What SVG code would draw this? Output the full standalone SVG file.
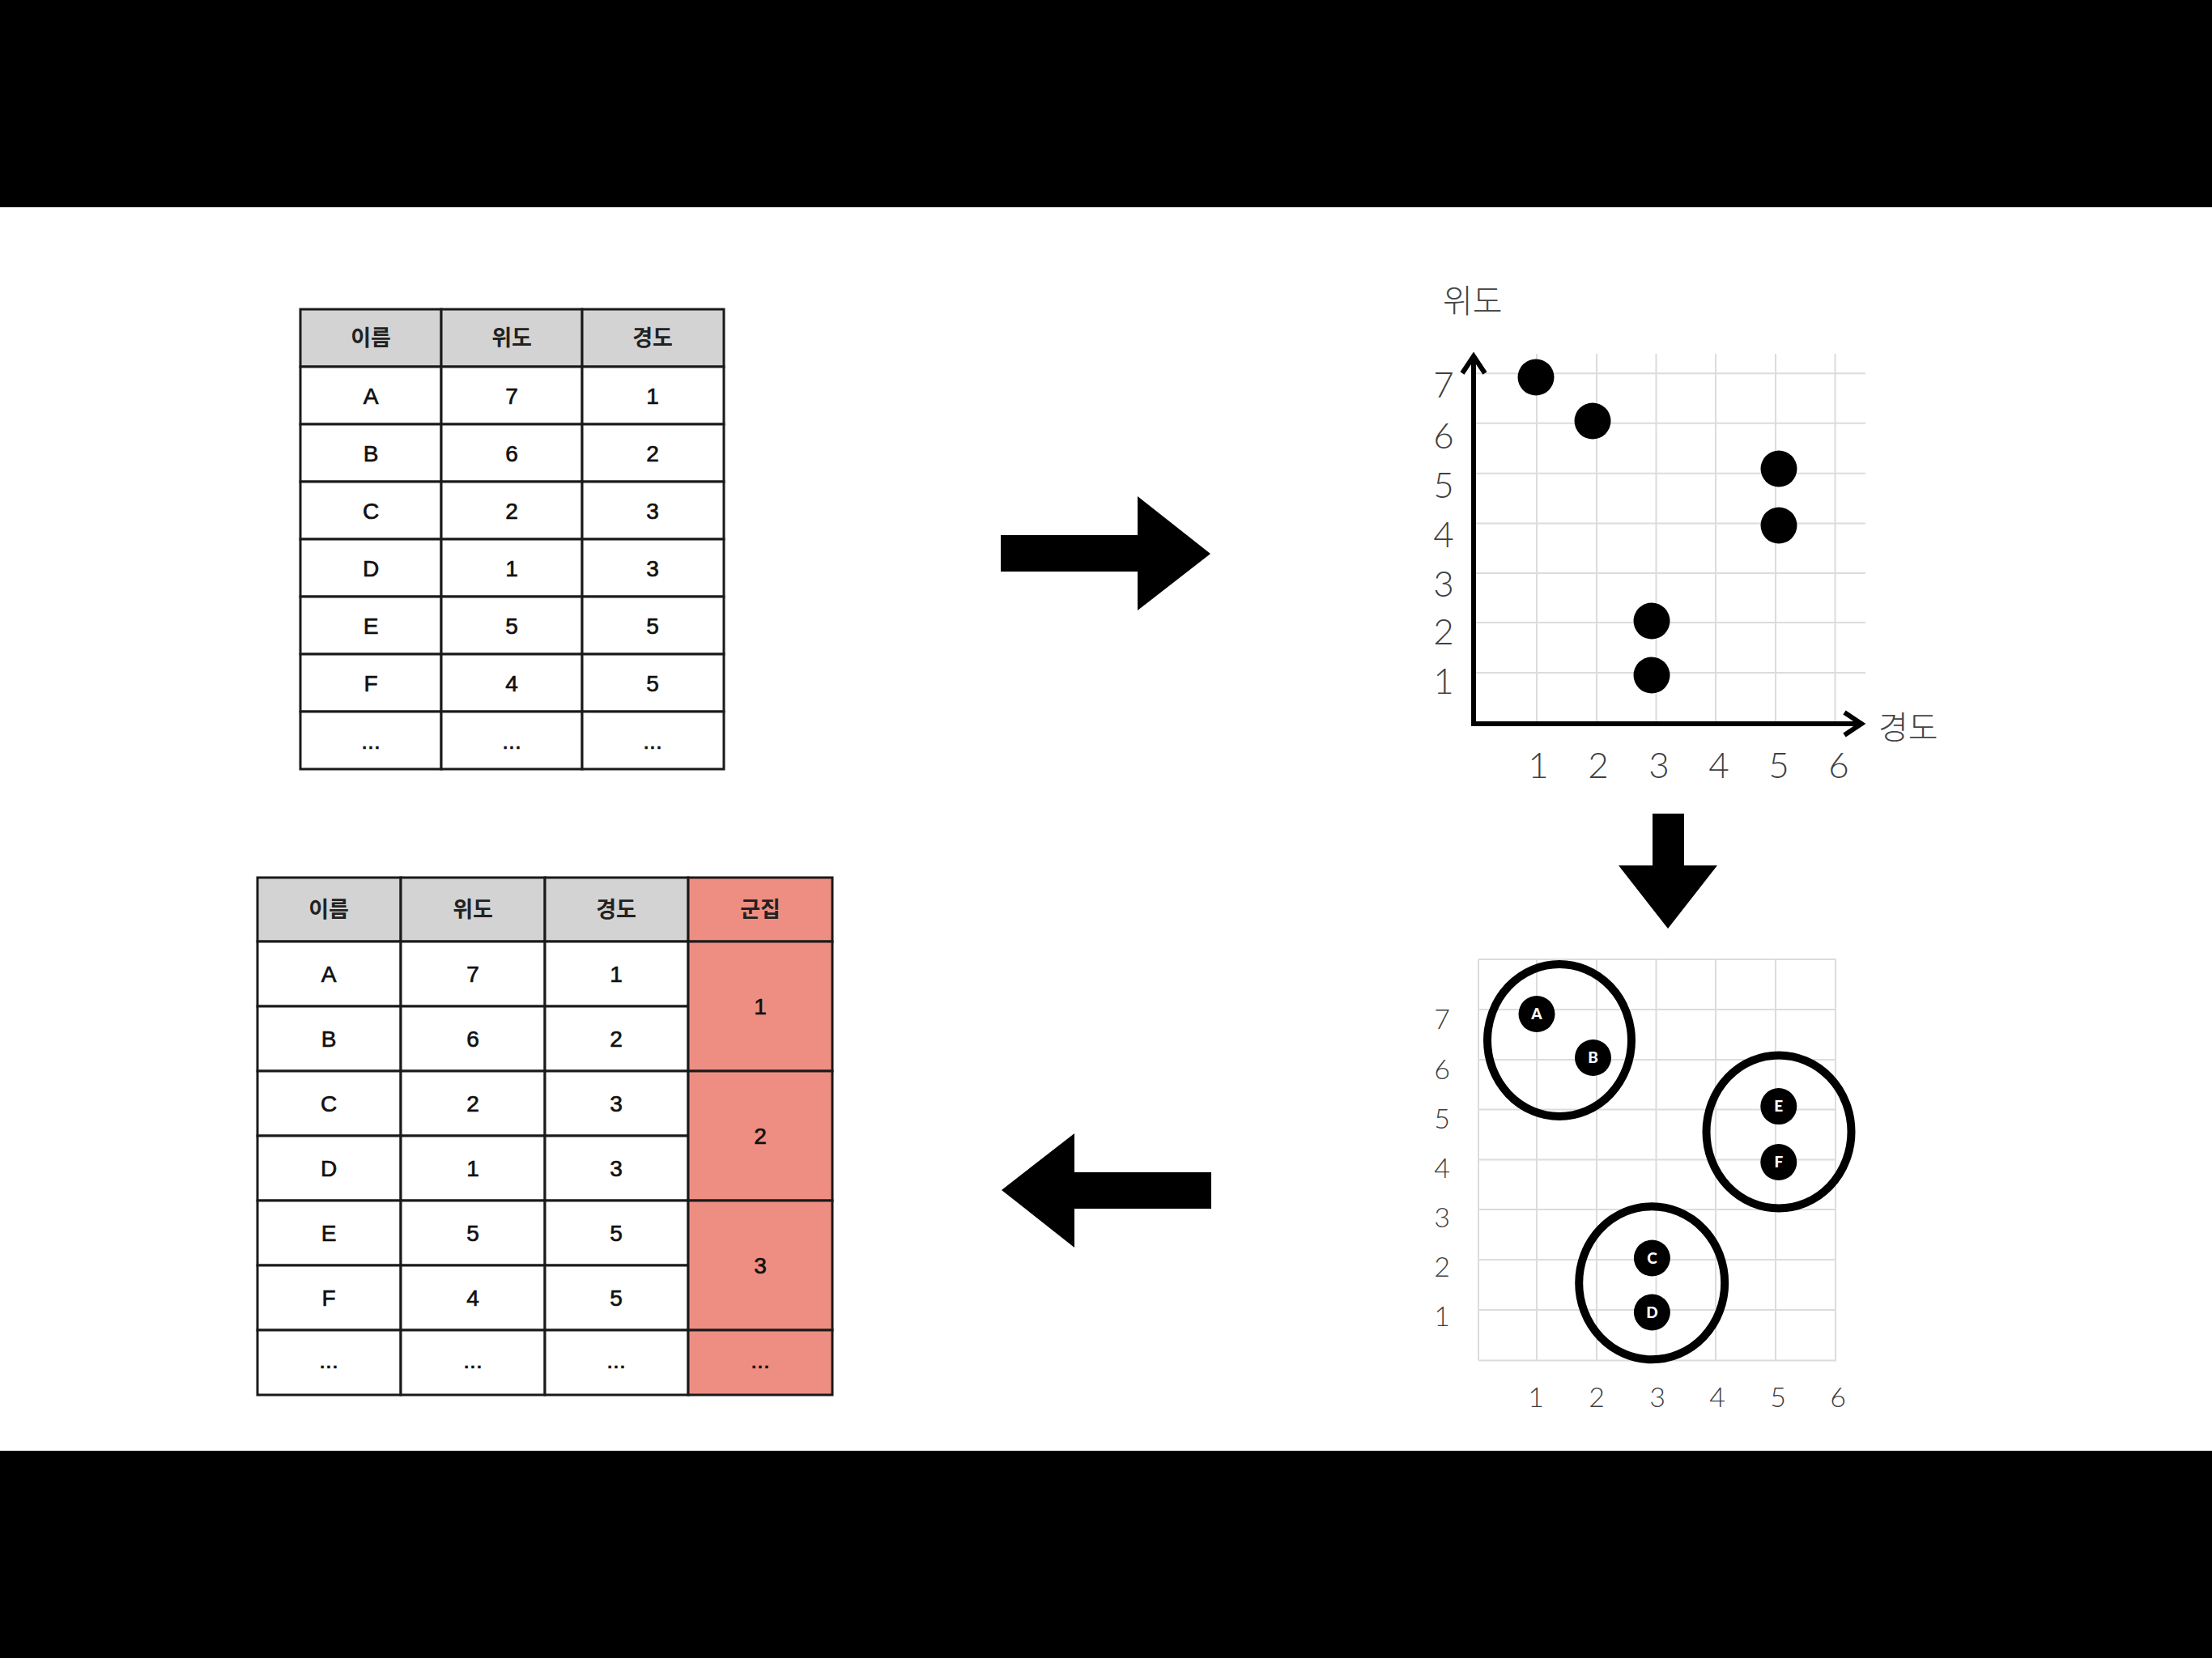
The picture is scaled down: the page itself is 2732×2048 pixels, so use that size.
<svg xmlns="http://www.w3.org/2000/svg" width="2732" height="2048" viewBox="0 0 2732 2048">
<style>
.cell{fill:#ffffff;stroke:#1a1a1a;stroke-width:3}
.hd{fill:#d3d3d3;stroke:#1a1a1a;stroke-width:3}
.cl{fill:#ee8e82;stroke:#1a1a1a;stroke-width:3}
.t{font-family:"Liberation Sans","Noto Sans CJK KR",sans-serif;font-size:28px;fill:#111;stroke:#111;stroke-width:0.7;text-anchor:middle}
.th{font-family:"Liberation Sans","Noto Sans CJK KR",sans-serif;font-size:27px;font-weight:bold;fill:#222;text-anchor:middle}
.grid{stroke:#dcdcdc;stroke-width:2;fill:none}
.ax{font-family:Lato,"Noto Sans CJK KR",sans-serif;font-weight:300;fill:#3f3f3f;text-anchor:middle}
.ko{font-family:"Noto Sans CJK KR",sans-serif;font-weight:300;fill:#444;font-size:40px}
.axis{stroke:#000;stroke-width:6;fill:none;stroke-linejoin:miter}
.ring{fill:none;stroke:#000;stroke-width:10}
.dl{font-family:Lato,"Open Sans",sans-serif;font-weight:900;font-size:19px;fill:#fff;text-anchor:middle}
</style>
<rect x="0" y="0" width="2732" height="2048" fill="#000"/>
<rect x="0" y="256" width="2732" height="1536" fill="#fff"/>

<g id="table-input">
  <rect class="hd" x="371" y="382" width="174" height="71"/>
  <rect class="hd" x="545" y="382" width="174" height="71"/>
  <rect class="hd" x="719" y="382" width="175" height="71"/>
  <g>
    <rect class="cell" x="371" y="453" width="174" height="71"/><rect class="cell" x="545" y="453" width="174" height="71"/><rect class="cell" x="719" y="453" width="175" height="71"/>
    <rect class="cell" x="371" y="524" width="174" height="71"/><rect class="cell" x="545" y="524" width="174" height="71"/><rect class="cell" x="719" y="524" width="175" height="71"/>
    <rect class="cell" x="371" y="595" width="174" height="71"/><rect class="cell" x="545" y="595" width="174" height="71"/><rect class="cell" x="719" y="595" width="175" height="71"/>
    <rect class="cell" x="371" y="666" width="174" height="71"/><rect class="cell" x="545" y="666" width="174" height="71"/><rect class="cell" x="719" y="666" width="175" height="71"/>
    <rect class="cell" x="371" y="737" width="174" height="71"/><rect class="cell" x="545" y="737" width="174" height="71"/><rect class="cell" x="719" y="737" width="175" height="71"/>
    <rect class="cell" x="371" y="808" width="174" height="71"/><rect class="cell" x="545" y="808" width="174" height="71"/><rect class="cell" x="719" y="808" width="175" height="71"/>
    <rect class="cell" x="371" y="879" width="174" height="71"/><rect class="cell" x="545" y="879" width="174" height="71"/><rect class="cell" x="719" y="879" width="175" height="71"/>
  </g>
  <text class="th" x="458" y="427">이름</text><text class="th" x="632" y="427">위도</text><text class="th" x="806" y="427">경도</text>
  <text class="t" x="458" y="499">A</text><text class="t" x="632" y="499">7</text><text class="t" x="806" y="499">1</text>
  <text class="t" x="458" y="570">B</text><text class="t" x="632" y="570">6</text><text class="t" x="806" y="570">2</text>
  <text class="t" x="458" y="641">C</text><text class="t" x="632" y="641">2</text><text class="t" x="806" y="641">3</text>
  <text class="t" x="458" y="712">D</text><text class="t" x="632" y="712">1</text><text class="t" x="806" y="712">3</text>
  <text class="t" x="458" y="783">E</text><text class="t" x="632" y="783">5</text><text class="t" x="806" y="783">5</text>
  <text class="t" x="458" y="854">F</text><text class="t" x="632" y="854">4</text><text class="t" x="806" y="854">5</text>
  <text class="t" x="458" y="925">...</text><text class="t" x="632" y="925">...</text><text class="t" x="806" y="925">...</text>
</g>

<g id="table-output">
  <rect class="hd" x="318" y="1084" width="177" height="79"/>
  <rect class="hd" x="495" y="1084" width="178" height="79"/>
  <rect class="hd" x="673" y="1084" width="177" height="79"/>
  <rect class="cl" x="850" y="1084" width="178" height="79"/>
  <g>
    <rect class="cell" x="318" y="1163" width="177" height="80"/><rect class="cell" x="495" y="1163" width="178" height="80"/><rect class="cell" x="673" y="1163" width="177" height="80"/>
    <rect class="cell" x="318" y="1243" width="177" height="80"/><rect class="cell" x="495" y="1243" width="178" height="80"/><rect class="cell" x="673" y="1243" width="177" height="80"/>
    <rect class="cell" x="318" y="1323" width="177" height="80"/><rect class="cell" x="495" y="1323" width="178" height="80"/><rect class="cell" x="673" y="1323" width="177" height="80"/>
    <rect class="cell" x="318" y="1403" width="177" height="80"/><rect class="cell" x="495" y="1403" width="178" height="80"/><rect class="cell" x="673" y="1403" width="177" height="80"/>
    <rect class="cell" x="318" y="1483" width="177" height="80"/><rect class="cell" x="495" y="1483" width="178" height="80"/><rect class="cell" x="673" y="1483" width="177" height="80"/>
    <rect class="cell" x="318" y="1563" width="177" height="80"/><rect class="cell" x="495" y="1563" width="178" height="80"/><rect class="cell" x="673" y="1563" width="177" height="80"/>
    <rect class="cell" x="318" y="1643" width="177" height="80"/><rect class="cell" x="495" y="1643" width="178" height="80"/><rect class="cell" x="673" y="1643" width="177" height="80"/>
    <rect class="cl" x="850" y="1163" width="178" height="160"/>
    <rect class="cl" x="850" y="1323" width="178" height="160"/>
    <rect class="cl" x="850" y="1483" width="178" height="160"/>
    <rect class="cl" x="850" y="1643" width="178" height="80"/>
  </g>
  <text class="th" x="406" y="1133">이름</text><text class="th" x="584" y="1133">위도</text><text class="th" x="761" y="1133">경도</text><text class="th" x="939" y="1133">군집</text>
  <text class="t" x="406" y="1213">A</text><text class="t" x="584" y="1213">7</text><text class="t" x="761" y="1213">1</text>
  <text class="t" x="406" y="1293">B</text><text class="t" x="584" y="1293">6</text><text class="t" x="761" y="1293">2</text>
  <text class="t" x="406" y="1373">C</text><text class="t" x="584" y="1373">2</text><text class="t" x="761" y="1373">3</text>
  <text class="t" x="406" y="1453">D</text><text class="t" x="584" y="1453">1</text><text class="t" x="761" y="1453">3</text>
  <text class="t" x="406" y="1533">E</text><text class="t" x="584" y="1533">5</text><text class="t" x="761" y="1533">5</text>
  <text class="t" x="406" y="1613">F</text><text class="t" x="584" y="1613">4</text><text class="t" x="761" y="1613">5</text>
  <text class="t" x="406" y="1690">...</text><text class="t" x="584" y="1690">...</text><text class="t" x="761" y="1690">...</text>
  <text class="t" x="939" y="1253">1</text><text class="t" x="939" y="1413">2</text><text class="t" x="939" y="1573">3</text><text class="t" x="939" y="1690">...</text>
</g>

<g id="scatter-plot">
  <path class="grid" d="M1898,437V894M1972,437V894M2045.5,437V894M2119,437V894M2193,437V894M2266.5,437V894M1820,461.3H2304M1820,522.8H2304M1820,584.7H2304M1820,646.5H2304M1820,708H2304M1820,769H2304M1820,830.9H2304"/>
  <path class="axis" d="M1820,442V894M1817,894H2298"/>
  <polyline class="axis" points="1806,461 1820,440 1834,461"/>
  <polyline class="axis" points="2278,880 2299,894 2278,908"/>
  <text class="ko" x="1782" y="386">위도</text>
  <text class="ko" x="2320" y="913">경도</text>
  <g class="ax" font-size="44">
    <text x="1783" y="491">7</text><text x="1783" y="554">6</text><text x="1783" y="615">5</text><text x="1783" y="676">4</text><text x="1783" y="737">3</text><text x="1783" y="796">2</text><text x="1783" y="857">1</text>
    <text x="1900" y="961">1</text><text x="1974" y="961">2</text><text x="2049" y="961">3</text><text x="2123" y="961">4</text><text x="2197" y="961">5</text><text x="2271" y="961">6</text>
  </g>
  <g fill="#000">
    <circle cx="1897" cy="466" r="22.5"/>
    <circle cx="1967" cy="520" r="22.5"/>
    <circle cx="2197" cy="579" r="22.5"/>
    <circle cx="2197" cy="649" r="22.5"/>
    <circle cx="2040" cy="767" r="22.5"/>
    <circle cx="2040" cy="834" r="22.5"/>
  </g>
</g>

<g id="cluster-plot">
  <path class="grid" d="M1826,1185V1680M1898,1185V1680M1972,1185V1680M2045.5,1185V1680M2119,1185V1680M2193,1185V1680M2267,1185V1680M1826,1185H2268M1826,1247H2268M1826,1309H2268M1826,1370.5H2268M1826,1432.4H2268M1826,1494H2268M1826,1556H2268M1826,1618H2268M1826,1680.4H2268"/>
  <g class="ax" font-size="34">
    <text x="1781" y="1271">7</text><text x="1781" y="1333">6</text><text x="1781" y="1394">5</text><text x="1781" y="1455">4</text><text x="1781" y="1516">3</text><text x="1781" y="1577">2</text><text x="1781" y="1638">1</text>
    <text x="1897" y="1738">1</text><text x="1972" y="1738">2</text><text x="2047" y="1738">3</text><text x="2121" y="1738">4</text><text x="2196" y="1738">5</text><text x="2270" y="1738">6</text>
  </g>
  <g id="cluster-1">
    <ellipse class="ring" cx="1926" cy="1285" rx="89" ry="94"/>
    <circle cx="1898" cy="1252.5" r="22.5"/><text class="dl" x="1898" y="1259">A</text>
    <circle cx="1967.5" cy="1306.5" r="22.5"/><text class="dl" x="1967.5" y="1313">B</text>
  </g>
  <g id="cluster-2">
    <ellipse class="ring" cx="2040.2" cy="1584.8" rx="90" ry="94.5"/>
    <circle cx="2040.4" cy="1554" r="22.5"/><text class="dl" x="2040.4" y="1560.5">C</text>
    <circle cx="2040.4" cy="1621" r="22.5"/><text class="dl" x="2040.4" y="1627.5">D</text>
  </g>
  <g id="cluster-3">
    <ellipse class="ring" cx="2197" cy="1398" rx="89.5" ry="94.5"/>
    <circle cx="2196.8" cy="1366.6" r="22.5"/><text class="dl" x="2196.8" y="1373">E</text>
    <circle cx="2196.8" cy="1435.5" r="22.5"/><text class="dl" x="2196.8" y="1442">F</text>
  </g>
</g>

<g id="connectors" fill="#000">
  <polygon points="1236,661 1405,661 1405,613 1495,684 1405,754 1405,706 1236,706"/>
  <polygon points="2041,1005 2080,1005 2080,1069 2121,1069 2060,1147 1999,1069 2041,1069"/>
  <polygon points="1496,1448 1327,1448 1327,1400 1237,1470 1327,1541 1327,1493 1496,1493"/>
</g>
</svg>
